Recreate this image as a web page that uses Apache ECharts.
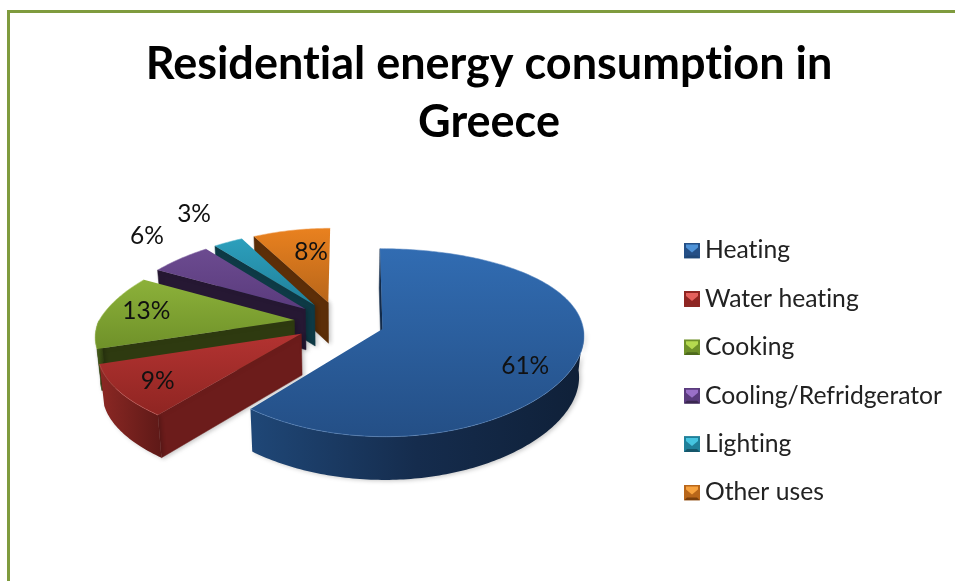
<!DOCTYPE html>
<html>
<head>
<meta charset="utf-8">
<style>html,body{margin:0;padding:0;background:#fff}#chart{width:955px;height:581px}</style>
<script src="https://cdn.jsdelivr.net/npm/echarts@6/dist/echarts.min.js"></script>
</head>
<body>
<div id="chart"></div>
<script>
// Residential energy use by purpose, in percent
const categories = ['Heating', 'Water heating', 'Cooking', 'Cooling/Refridgerator', 'Lighting', 'Other uses'];
const shares = [61, 9, 13, 6, 3, 8];

// Fill colours per slice: top face (light, dark) and side wall (light, dark, radial cut)
const topLight = ['#316cb2', '#b33331', '#8cb13a', '#6c4b90', '#2c9fbc', '#e9811f'];
const topDark = ['#244f86', '#8f2522', '#6f9129', '#5a3b7d', '#20809a', '#b8661a'];
const wallLight = ['#1f4777', '#8c2824', '#4d6a1c', '#3a2750', '#15566a', '#7a3f0c'];
const wallDark = ['#0f2038', '#5e1917', '#2c3810', '#21142e', '#0c343f', '#522a08'];
const cutFace = ['#132c4c', '#6c1c1b', '#2e3a10', '#261833', '#0e3a46', '#5c2e08'];
const rimColor = ['#5d8ac2', '#c9605c', '#a9c765', '#8d72ab', '#63bcd2', '#f0a45e'];
const keyGlow = ['#4f93d8', '#e4605c', '#b5d94f', '#9a6fc8', '#45c4e0', '#f7a23e'];

// Where each percentage sits: distance from the pie centre and a small pixel nudge
const labelReach = [0.97, 1.06, 0.96, 1.31, 1.4, 0.6];
const labelNudge = [[0, 13], [4, 0], [-9, -3], [-25, -19], [-22, -18], [-2, -22]];

// Oblique view of the pie disc, with separate foreshortening for the near and far left
const view = {
  cx: 339, cy: 322, rx: 200, ry: 90, depth: 41, explode: 0.23, leftScale: 0.98,
  perspRight: 0.06, perspNearLeft: 0.08, perspNearLeftGrow: 0.11, perspFarLeft: 0.22,
  perspY: 0.143, taper: 0.02
};

const total = shares.reduce((a, b) => a + b, 0);
const startAngles = shares.map((_, i) => shares.slice(0, i).reduce((a, b) => a + b, 0) / total * 360);

function project(u, v, drop) {
  let p = view.perspRight, side = 1;
  if (u < 0) {
    side = view.leftScale;
    p = v >= 0 ? view.perspNearLeft + view.perspNearLeftGrow * Math.max(0, -u - 0.5) : view.perspFarLeft;
  }
  const sx = side / (1 - p * v);
  const sy = 1 / (1 - view.perspY * v);
  const x = view.rx * u * sx * (1 - view.taper * drop);
  return [view.cx + x, view.cy + view.ry * v * sy + view.depth * drop * (1 + (sy - 1) * 0.3)];
}

// Point on the disc at a clockwise angle from twelve o'clock, pushed out along the slice's middle
function discPoint(deg, radius, mid, drop) {
  const a = deg * Math.PI / 180, m = mid * Math.PI / 180;
  const u = radius * Math.sin(a) + view.explode * Math.sin(m);
  const v = -radius * Math.cos(a) - view.explode * Math.cos(m);
  return project(u, v, drop);
}

function arcPoints(from, to, mid, drop) {
  const steps = Math.max(2, Math.ceil(Math.abs(to - from)));
  const pts = [];
  for (let k = 0; k <= steps; k++) pts.push(discPoint(from + (to - from) * k / steps, 1, mid, drop));
  return pts;
}

function hGrad(stops) {
  return new echarts.graphic.LinearGradient(0, 0, 1, 0, stops.map((c, k) => ({ offset: k / (stops.length - 1), color: c })));
}
function vGrad(a, b) {
  return new echarts.graphic.LinearGradient(0, 0, 0, 1, [{ offset: 0, color: a }, { offset: 1, color: b }]);
}

function renderSlice(i) {
  return function (params, api) {
    const share = api.value(0);
    const a0 = startAngles[i], a1 = a0 + share / total * 360, mid = (a0 + a1) / 2;
    const kids = [];
    const shade = { shadowBlur: 4, shadowColor: 'rgba(0,0,0,0.22)', shadowOffsetX: 2, shadowOffsetY: 1 };

    // Radial cut faces: only those turned towards the viewer are drawn
    const faces = [];
    if (Math.sin(a0 * Math.PI / 180) <= 0) faces.push(a0);
    if (Math.sin(a1 * Math.PI / 180) > 0) faces.push(a1);
    faces.forEach(function (edge) {
      const pts = [discPoint(edge, 0, mid, 0), discPoint(edge, 1, mid, 0), discPoint(edge, 1, mid, 1), discPoint(edge, 0, mid, 1)];
      kids.push({ type: 'polygon', shape: { points: pts }, style: Object.assign({ fill: cutFace[i], stroke: cutFace[i], lineWidth: 0.5 }, shade) });
    });

    // Rim wall: only the stretch of arc that faces the viewer
    const wallFrom = Math.max(a0, 90), wallTo = Math.min(a1, 270);
    if (wallTo > wallFrom) {
      const upper = arcPoints(wallFrom, wallTo, mid, 0);
      const lower = arcPoints(wallTo, wallFrom, mid, 1);
      const stops = i === 0 ? [wallLight[i], '#152c4d', wallDark[i]] : [wallLight[i], wallDark[i]];
      kids.push({ type: 'polygon', shape: { points: upper.concat(lower) }, style: Object.assign({ fill: hGrad(stops) }, shade) });
    }

    // Top face
    const topPts = [discPoint(a0, 0, mid, 0)].concat(arcPoints(a0, a1, mid, 0));
    kids.push({ type: 'polygon', shape: { points: topPts }, style: { fill: vGrad(topLight[i], topDark[i]) } });

    // Thin highlight along the outer edge
    kids.push({
      type: 'polyline',
      shape: { points: arcPoints(a0, a1, mid, 0) },
      style: { fill: 'none', stroke: rimColor[i], lineWidth: 1, opacity: 0.55 }
    });

    // Percentage label
    const m = mid * Math.PI / 180, reach = labelReach[i];
    const p = project(reach * Math.sin(m), -reach * Math.cos(m), 0);
    kids.push({
      type: 'text',
      x: p[0] + labelNudge[i][0],
      y: p[1] + labelNudge[i][1],
      style: {
        text: share + '%', fill: '#111', font: '24.5px Lato',
        align: 'center', verticalAlign: 'middle'
      }
    });
    return { type: 'group', children: kids };
  };
}

// Small bevelled square used as the legend key
function bevelIcon(i) {
  const svg = '<svg xmlns="http://www.w3.org/2000/svg" width="16" height="16">' +
    '<rect width="16" height="16" fill="' + topDark[i] + '"/>' +
    '<path d="M2 2L14 2L14 5L8 10L2 5Z" fill="' + keyGlow[i] + '"/>' +
    '<path d="M0 16L16 16L13 13L3 13Z" fill="' + wallLight[i] + '"/>' +
    '</svg>';
  return 'image://data:image/svg+xml;charset=utf-8,' + encodeURIComponent(svg);
}

// Plain glyph shaping so "ti" keeps its two separate letters in canvas text
const nativeGetContext = HTMLCanvasElement.prototype.getContext;
HTMLCanvasElement.prototype.getContext = function (kind, opts) {
  const ctx = nativeGetContext.call(this, kind, opts);
  if (kind === '2d' && ctx) ctx.textRendering = 'optimizeSpeed';
  return ctx;
};

// Back slices are painted first so the nearer ones overlap them
const paintOrder = [5, 4, 3, 2, 1, 0];

const chart = echarts.init(document.getElementById('chart'), null, { renderer: 'canvas' });
chart.setOption({
  animation: false,
  backgroundColor: '#ffffff',
  title: {
    text: 'Residential energy consumption in\nGreece',
    left: 484,
    top: 31,
    textAlign: 'center',
    textStyle: { fontFamily: 'Lato', fontWeight: 'bold', fontSize: 45, lineHeight: 57.5, color: '#000' }
  },
  legend: {
    orient: 'vertical',
    left: 679,
    top: 233,
    itemGap: 23.4,
    itemWidth: 16,
    itemHeight: 16,
    align: 'left',
    selectedMode: false,
    data: categories.map((name, i) => ({ name: name, icon: bevelIcon(i) })),
    textStyle: { fontFamily: 'Lato', fontSize: 24.7, color: '#222' }
  },
  graphic: [{
    type: 'rect',
    shape: { x: 8.5, y: 11.5, width: 1100, height: 800 },
    style: { fill: 'none', stroke: '#7f9b3e', lineWidth: 3 },
    silent: true
  }],
  series: paintOrder.map(i => ({
    type: 'custom',
    name: categories[i],
    coordinateSystem: 'none',
    silent: true,
    itemStyle: { color: topLight[i] },
    renderItem: renderSlice(i),
    data: [[shares[i]]]
  }))
});
</script>
</body>
</html>
